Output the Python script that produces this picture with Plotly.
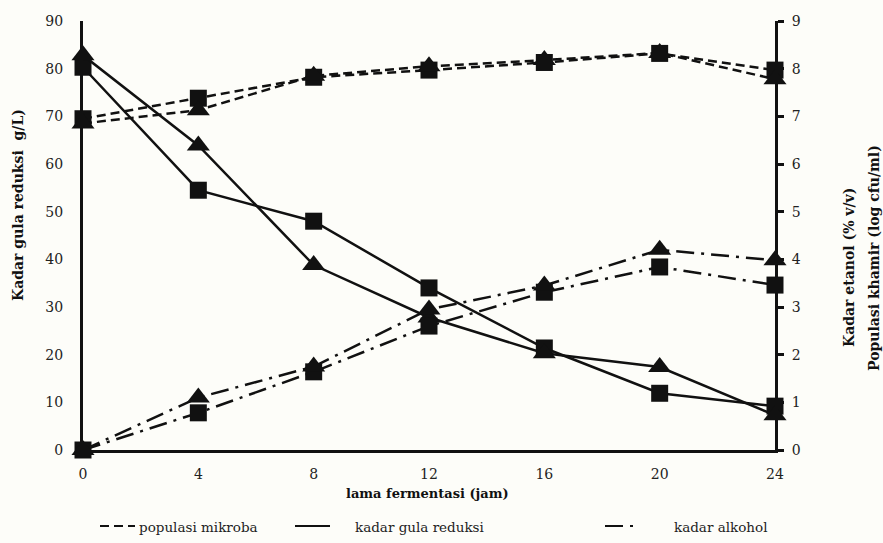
import plotly.graph_objects as go

# ---- data ----
jam = [0, 4, 8, 12, 16, 20, 24]
populasi_kotak = [6.95, 7.38, 7.82, 7.97, 8.13, 8.32, 7.97]
populasi_segitiga = [6.85, 7.13, 7.85, 8.05, 8.18, 8.33, 7.78]
gula_kotak = [80.3, 54.5, 48.0, 34.0, 21.4, 11.9, 9.2]
gula_segitiga = [82.8, 63.9, 38.8, 27.8, 20.3, 17.4, 7.3]
alkohol_kotak = [0.0, 0.78, 1.64, 2.6, 3.31, 3.84, 3.46]
alkohol_segitiga = [0.0, 1.1, 1.75, 2.95, 3.45, 4.2, 3.98]

x_ticks = [0, 4, 8, 12, 16, 20, 24]
y_left_ticks = [0, 10, 20, 30, 40, 50, 60, 70, 80, 90]
y_right_ticks = [0, 1, 2, 3, 4, 5, 6, 7, 8, 9]

# ---- layout geometry ----
W, H = 883, 543
L, R, T, B = 83, 108, 21, 93
PW, PH = W - L - R, H - T - B

def px(xp):
    return (xp - L) / PW

def py(yp):
    return (H - B - yp) / PH

FONT = "DejaVu Serif"
BLACK = "#111111"
DASH_POP = "9px,5px"
DASH_ALK = "18px,7px,3px,7px"

fig = go.Figure()

def add(y, dash, symbol, axis, size):
    fig.add_trace(go.Scatter(
        x=jam, y=y, mode="lines+markers", yaxis=axis, showlegend=False,
        line=dict(color=BLACK, width=2.5, dash=dash),
        marker=dict(symbol=symbol, size=size, color=BLACK, line=dict(width=0)),
        cliponaxis=False,
    ))

add(populasi_kotak, DASH_POP, "square", "y2", 17)
add(populasi_segitiga, DASH_POP, "triangle-up", "y2", 20)
add(gula_kotak, "solid", "square", "y", 17)
add(gula_segitiga, "solid", "triangle-up", "y", 20)
add(alkohol_kotak, DASH_ALK, "square", "y2", 17)
add(alkohol_segitiga, DASH_ALK, "triangle-up", "y2", 20)

tickfont = dict(family=FONT, size=14, color="#222222")

fig.update_layout(
    width=W, height=H,
    margin=dict(l=L, r=R, t=T, b=B),
    paper_bgcolor="#fdfdf9", plot_bgcolor="#fdfdf9",
    showlegend=False,
    font=dict(family=FONT),
    xaxis=dict(range=[0, 24], tickvals=x_ticks, ticks="", showgrid=False, zeroline=False,
               showline=True, linecolor=BLACK, linewidth=3, tickfont=tickfont,
               ticklabelstandoff=9),
    yaxis=dict(range=[0, 90], tickvals=y_left_ticks, ticks="", showgrid=False, zeroline=False,
               showline=True, linecolor=BLACK, linewidth=3, tickfont=tickfont,
               ticklabelstandoff=14),
    yaxis2=dict(range=[0, 9], tickvals=y_right_ticks, overlaying="y", side="right",
                ticks="outside", ticklen=6, tickwidth=3, tickcolor=BLACK,
                showgrid=False, zeroline=False, showline=True, linecolor=BLACK, linewidth=3,
                tickfont=tickfont, ticklabelstandoff=5),
)

bold = dict(family=FONT, size=13, color=BLACK)
bold_v = dict(family=FONT, size=14, color=BLACK)
ann = [
    dict(text="<b>lama fermentasi (jam)</b>", x=px(427), y=py(493), font=bold),
    dict(text="<b>Kadar gula reduksi  g/L)</b>", x=px(18), y=py(205), textangle=-90, font=bold_v),
    dict(text="<b>Kadar etanol (% v/v)</b>", x=px(849), y=py(268), textangle=-90, font=bold_v),
    dict(text="<b>Populasi khamir (log cfu/ml)</b>", x=px(874), y=py(258), textangle=-90, font=bold_v),
]
for a in ann:
    fig.add_annotation(xref="paper", yref="paper", showarrow=False,
                       xanchor="center", yanchor="middle", **a)

# legend row (decoration)
leg_font = dict(family=FONT, size=13.5, color="#222222")
legend_items = [
    ("populasi mikroba", 100, 135, 137, DASH_POP),
    ("kadar gula reduksi", 295, 330, 353, "solid"),
    ("kadar alkohol", 605, 640, 672, DASH_ALK),
]
for label, x0, x1, xt, dash in legend_items:
    fig.add_shape(type="line", xref="paper", yref="paper",
                  x0=px(x0), x1=px(x1), y0=py(526), y1=py(526),
                  line=dict(color=BLACK, width=2, dash=dash))
    fig.add_annotation(xref="paper", yref="paper", x=px(xt), y=py(527), text=label,
                       showarrow=False, xanchor="left", yanchor="middle", font=leg_font)

fig.write_html("out.html")
